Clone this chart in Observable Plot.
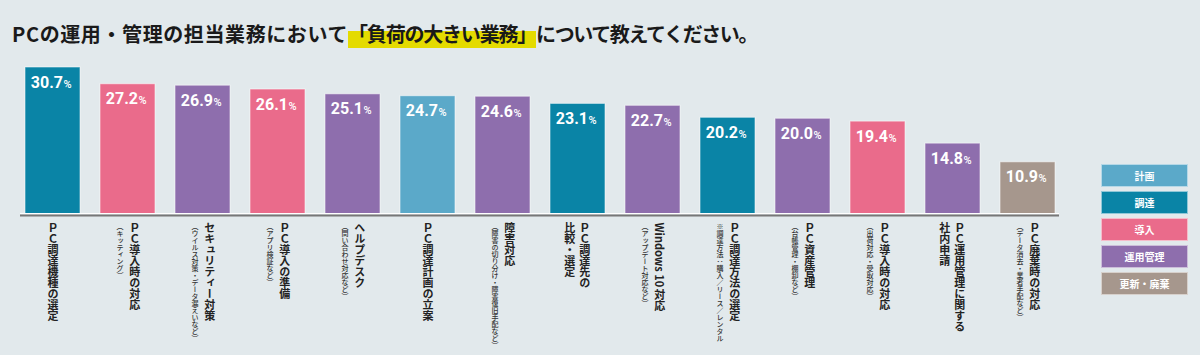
<!DOCTYPE html>
<html lang="ja">
<head>
<meta charset="utf-8">
<script src="https://cdn.jsdelivr.net/npm/d3@7"></script>
<script src="https://cdn.jsdelivr.net/npm/@observablehq/plot@0.6"></script>
<style>
html,body{margin:0;padding:0;background:#E2E9EC;width:1200px;height:355px;overflow:hidden;position:relative;font-family:"Noto Sans CJK JP",sans-serif}
#title{position:absolute;left:12px;top:23px;font-size:20px;line-height:22px;font-weight:700;color:#1a1a1a;white-space:nowrap}
#title .p1{letter-spacing:0.6px}
#title .p3{letter-spacing:-1.4px}
#title .hl{letter-spacing:-1.2px;background:linear-gradient(transparent 40%, #E4DB00 40%);}
#chart{position:absolute;left:0;top:55px}
#legend{position:absolute;left:1101px;top:164px}
.lg{width:85px;height:21px;border:1px solid rgba(255,255,255,.55);margin-bottom:4px;color:#fff;font-size:10px;font-weight:700;text-align:center;line-height:21px}
</style>
</head>
<body>
<div id="title"><span class="p1">PCの運用・管理の担当業務において</span><span class="hl">「負荷の大きい業務」</span><span class="p3">について教えてください。</span></div>
<div id="chart"></div>
<div id="legend"></div>
<script>
const categories = ["ＰＣ調達機種の選定","ＰＣ導入時の対応","セキュリティー対策","ＰＣ導入の準備","ヘルプデスク","ＰＣ調達計画の立案","障害対応","ＰＣ調達先の","Windows 10 対応","ＰＣ調達方法の選定","ＰＣ資産管理","ＰＣ導入時の対応","ＰＣ運用管理に関する","ＰＣ廃棄時の対応"];
const secondLines = ["","","","","","","","比較・選定","","","","","社内申請",""];
const subLabels = ["","（キッティング）","（ウイルス対策・データ漏えいなど）","（アプリ検証など）","（問い合わせ対応など）","","（障害の切り分け・障害復旧手配など）","","（アップデート対応など）","※調達方法：購入／リース／レンタル","（台帳管理・棚卸など）","（出荷対応・受取対応）","","（データ消去・業者手配など）"];
const values = [30.7,27.2,26.9,26.1,25.1,24.7,24.6,23.1,22.7,20.2,20.0,19.4,14.8,10.9];
const phases = ["調達","導入","運用管理","導入","運用管理","計画","運用管理","調達","運用管理","調達","運用管理","導入","運用管理","更新・廃棄"];
const phaseNames = ["計画","調達","導入","運用管理","更新・廃棄"];
const phaseColors = ["#5BA9C9","#0A84A6","#EA6B8B","#8E6EAD","#A6978D"];

const data = categories.map((c,i)=>({i, main:c, line2:secondLines[i], sub:subLabels[i], value:values[i], phase:phases[i], paired: !!(secondLines[i]||subLabels[i])}));

const vfont = "Noto Sans CJK JP";
const chart = Plot.plot({
  width: 1200, height: 300,
  marginLeft: 20, marginRight: 141, marginTop: 12, marginBottom: 141,
  style: {background: "transparent", fontFamily: vfont},
  x: {domain: d3.range(categories.length), paddingInner: 0.273, paddingOuter: 0, axis: null},
  y: {domain: [0, 30.7], axis: null},
  color: {domain: phaseNames, range: phaseColors},
  marks: [
    Plot.barY(data, {x: "i", y: "value", fill: "phase", stroke: "white", strokeOpacity: 0.55, strokeWidth: 1}),
    Plot.ruleY([0], {stroke: "white", strokeWidth: 1, dy: -1}),
    Plot.ruleY([0], {stroke: "#777", strokeWidth: 2, dy: 1}),
    Plot.text(data, {x: "i", y: "value", text: d => d.value.toFixed(1), fill: "white", fontSize: 16, fontWeight: 700, fontFamily: "Roboto", textAnchor: "end", dx: 10, dy: 15}),
    Plot.text(data, {x: "i", y: "value", text: () => "%", fill: "white", fontSize: 11, fontWeight: 500, fontFamily: "Roboto", textAnchor: "start", dx: 10.5, dy: 16.6}),
    Plot.text(data, {filter: d => !d.paired, x: "i", frameAnchor: "bottom", text: "main", lineAnchor: "bottom", textAnchor: "start", dy: 8, fontSize: 11, fontWeight: 700, fill: "#222", ariaDescription: "vlabel"}),
    Plot.text(data, {filter: d => d.paired, x: "i", frameAnchor: "bottom", text: "main", lineAnchor: "bottom", textAnchor: "start", dx: 6.7, dy: 8, fontSize: 11, fontWeight: 700, fill: "#222", ariaDescription: "vlabel"}),
    Plot.text(data, {filter: d => d.line2, x: "i", frameAnchor: "bottom", text: "line2", lineAnchor: "bottom", textAnchor: "start", dx: -8.2, dy: 8, fontSize: 11, fontWeight: 700, fill: "#222", ariaDescription: "vlabel"}),
    Plot.text(data, {filter: d => d.sub, x: "i", frameAnchor: "bottom", text: "sub", lineAnchor: "bottom", textAnchor: "start", dx: -8, dy: 8, fontSize: 7, fontWeight: 500, fill: "#333", ariaDescription: "vlabel"})
  ]
});
chart.querySelectorAll('[aria-description="vlabel"] text').forEach(t => {
  t.removeAttribute("y");
  t.style.writingMode = "vertical-rl";
});
document.getElementById("chart").appendChild(chart);

const legend = d3.select("#legend");
phaseNames.forEach((p,k) => {
  legend.append("div").attr("class","lg").style("background", phaseColors[k]).text(p);
});
</script>
</body>
</html>
